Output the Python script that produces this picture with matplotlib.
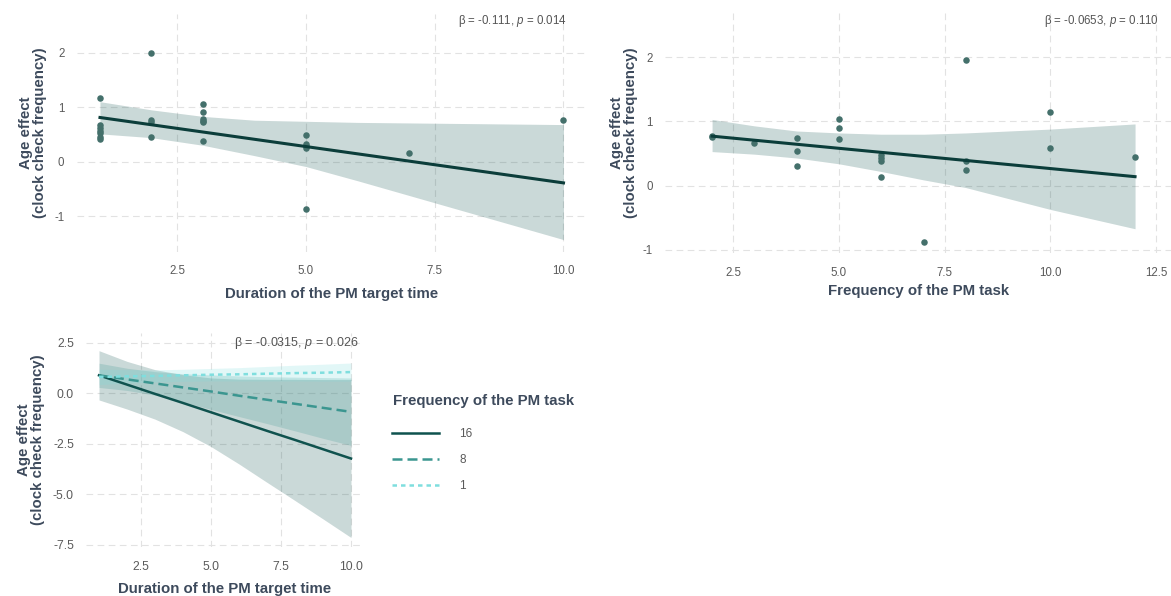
import matplotlib
matplotlib.use("Agg")
import matplotlib.pyplot as plt

plt.rcParams['font.family'] = ['Liberation Sans', 'DejaVu Sans']
plt.rcParams['axes.unicode_minus'] = False
plt.rcParams['mathtext.fontset'] = 'custom'
plt.rcParams['mathtext.it'] = 'Liberation Sans:italic'
plt.rcParams['mathtext.rm'] = 'Liberation Sans'

# --- panel A: duration of the PM target time ---
dur_x = [1, 1, 1, 1, 1, 1, 1, 2, 2, 2, 2, 3, 3, 3, 3, 3, 3, 5, 5, 5, 5, 5, 7, 10]
dur_y = [1.17, 0.67, 0.62, 0.57, 0.52, 0.45, 0.42, 1.99, 0.76, 0.73, 0.45,
         1.05, 0.91, 0.79, 0.75, 0.73, 0.38, 0.49, 0.32, 0.28, 0.25, -0.87, 0.15, 0.77]
dur_fit_x = [1, 10]
dur_fit_y = [0.81, -0.39]
dur_band_x = [1, 2, 3, 4, 5, 6, 7, 8, 9, 10]
dur_band_lo = [0.51, 0.44, 0.30, 0.11, -0.09, -0.35, -0.62, -0.89, -1.16, -1.43]
dur_band_hi = [1.10, 0.95, 0.83, 0.76, 0.74, 0.72, 0.71, 0.70, 0.69, 0.68]
dur_label = r'β = -0.111, $\it{p}$ = 0.014'

# --- panel B: frequency of the PM task ---
freq_x = [2, 2, 3, 4, 4, 4, 5, 5, 5, 6, 6, 6, 6, 7, 8, 8, 8, 10, 10, 12]
freq_y = [0.78, 0.76, 0.66, 0.74, 0.54, 0.31, 1.03, 0.89, 0.72, 0.47, 0.43, 0.39,
          0.13, -0.88, 1.96, 0.38, 0.25, 1.15, 0.58, 0.44]
freq_fit_x = [2, 12]
freq_fit_y = [0.77, 0.14]
freq_band_x = [2, 3, 4, 5, 6, 7, 8, 9, 10, 11, 12]
freq_band_lo = [0.53, 0.49, 0.43, 0.34, 0.22, 0.09, -0.03, -0.20, -0.37, -0.52, -0.67]
freq_band_hi = [1.03, 0.93, 0.85, 0.82, 0.80, 0.80, 0.82, 0.85, 0.88, 0.92, 0.96]
freq_label = r'β = -0.0653, $\it{p}$ = 0.110'

# --- panel C: interaction, simple slopes at three task frequencies ---
int_levels = ['16', '8', '1']
int_x = [1, 2, 3, 4, 5, 6, 7, 8, 9, 10]
int_fit = {
    '16': [0.89, 0.43, -0.03, -0.48, -0.94, -1.40, -1.86, -2.31, -2.77, -3.23],
    '8': [0.89, 0.69, 0.49, 0.29, 0.09, -0.12, -0.32, -0.52, -0.72, -0.92],
    '1': [0.81, 0.84, 0.86, 0.89, 0.92, 0.94, 0.97, 1.00, 1.02, 1.05],
}
int_lo = {
    '16': [-0.33, -0.78, -1.28, -1.90, -2.64, -3.50, -4.41, -5.31, -6.22, -7.14],
    '8': [0.29, 0.14, -0.09, -0.42, -0.80, -1.15, -1.50, -1.86, -2.23, -2.58],
    '1': [0.43, 0.51, 0.56, 0.59, 0.61, 0.61, 0.61, 0.61, 0.60, 0.60],
}
int_hi = {
    '16': [2.11, 1.58, 1.17, 0.92, 0.76, 0.70, 0.69, 0.69, 0.68, 0.68],
    '8': [1.49, 1.24, 1.07, 0.97, 0.91, 0.86, 0.82, 0.80, 0.78, 0.76],
    '1': [1.19, 1.17, 1.16, 1.19, 1.23, 1.27, 1.33, 1.39, 1.44, 1.50],
}
int_label = r'β = -0.0315, $\it{p}$ = 0.026'

line_col = '#0b3d3a'
point_col = '#44706b'
band_col = '#0f524e'
level_cols = {'16': '#0f524e', '8': '#3b9690', '1': '#7fdede'}
level_dash = {'16': None, '8': (4, 2), '1': (1.8, 1.6)}
title_col = '#3d4a5c'
tick_col = '#5a5a5a'
ylab = 'Age effect\n(clock check frequency)'


def style(ax, tick_size=8.3):
    for s in ax.spines.values():
        s.set_visible(False)
    ax.grid(True, color='#e2e2e2', lw=0.8, linestyle=(0, (6, 4)))
    ax.set_axisbelow(True)
    ax.tick_params(length=0, colors=tick_col, labelsize=tick_size)
    ax.tick_params(axis='y', pad=9)
    ax.tick_params(axis='x', pad=10)


def titles(ax, xlab, xl_y, yl_x):
    ax.set_xlabel(xlab, fontsize=10.8, fontweight='bold', color=title_col)
    ax.set_ylabel(ylab, fontsize=10.8, fontweight='bold', color=title_col, linespacing=1.05)
    ax.xaxis.set_label_coords(0.5, xl_y)
    ax.yaxis.set_label_coords(yl_x, 0.5)


fig = plt.figure(figsize=(11.71, 5.96), dpi=100)

# panel A
ax1 = fig.add_axes([0.0656, 0.5779, 0.4354, 0.3978])
style(ax1)
ax1.fill_between(dur_band_x, dur_band_lo, dur_band_hi, color=band_col, alpha=0.22, lw=0)
ax1.scatter(dur_x, dur_y, s=22, color=point_col, zorder=3, lw=0)
ax1.plot(dur_fit_x, dur_fit_y, color=line_col, lw=2.2, zorder=4)
ax1.set_xlim(0.55, 10.45)
ax1.set_ylim(-1.65, 2.70)
ax1.set_xticks([2.5, 5.0, 7.5, 10.0])
ax1.set_xticklabels(['2.5', '5.0', '7.5', '10.0'])
ax1.set_yticks([-1, 0, 1, 2])
ax1.text(10.07, 2.58, dur_label, ha='right', va='center', fontsize=8.3, color='#555555')
titles(ax1, 'Duration of the PM target time', -0.149, -0.058)

# panel B
ax2 = fig.add_axes([0.568, 0.5752, 0.432, 0.4035])
style(ax2)
ax2.fill_between(freq_band_x, freq_band_lo, freq_band_hi, color=band_col, alpha=0.22, lw=0)
ax2.scatter(freq_x, freq_y, s=22, color=point_col, zorder=3, lw=0)
ax2.plot(freq_fit_x, freq_fit_y, color=line_col, lw=2.2, zorder=4)
ax2.set_xlim(0.89, 12.85)
ax2.set_ylim(-1.05, 2.69)
ax2.set_xticks([2.5, 5.0, 7.5, 10.0, 12.5])
ax2.set_xticklabels(['2.5', '5.0', '7.5', '10.0', '12.5'])
ax2.set_yticks([-1, 0, 1, 2])
ax2.text(12.56, 2.56, freq_label, ha='right', va='center', fontsize=8.3, color='#555555')
titles(ax2, 'Frequency of the PM task', -0.128, -0.053)

# panel C
ax3 = fig.add_axes([0.0738, 0.0819, 0.2367, 0.3592])
style(ax3, tick_size=8.8)
handles = []
for lev in int_levels:
    ax3.fill_between(int_x, int_lo[lev], int_hi[lev], color=level_cols[lev], alpha=0.22, lw=0)
for lev in int_levels:
    ln, = ax3.plot(int_x, int_fit[lev], color=level_cols[lev], lw=1.8, zorder=4)
    if level_dash[lev] is not None:
        ln.set_dashes(level_dash[lev])
    handles.append(ln)
ax3.set_xlim(0.55, 10.45)
ax3.set_ylim(-7.62, 2.98)
ax3.set_xticks([2.5, 5.0, 7.5, 10.0])
ax3.set_xticklabels(['2.5', '5.0', '7.5', '10.0'])
ax3.set_yticks([-7.5, -5.0, -2.5, 0.0, 2.5])
ax3.set_yticklabels(['-7.5', '-5.0', '-2.5', '0.0', '2.5'])
ax3.text(10.29, 2.5, int_label, ha='right', va='center', fontsize=9, color='#555555')
titles(ax3, 'Duration of the PM target time', -0.161, -0.149)

# legend for panel C, title drawn on its own
fig.text(0.3356, 0.328, 'Frequency of the PM task', ha='left', va='center',
         fontsize=10.8, fontweight='bold', color=title_col)
leg = fig.legend(handles, int_levels, loc='upper left', bbox_to_anchor=(0.3347, 0.282),
                 frameon=False, fontsize=8.5, handlelength=4.0, handletextpad=1.7,
                 labelspacing=1.2, borderpad=0, borderaxespad=0)
for t in leg.get_texts():
    t.set_color(tick_col)

fig.savefig('out.png', dpi=100)
